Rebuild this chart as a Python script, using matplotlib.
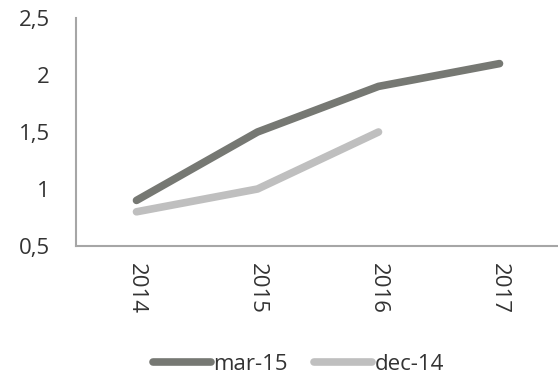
import matplotlib.pyplot as plt
from matplotlib.ticker import FuncFormatter

plt.rcParams['font.family'] = ['Open Sans', 'DejaVu Sans']

years = ['2014', '2015', '2016', '2017']
mar15 = [0.9, 1.5, 1.9, 2.1]
dec14 = [0.8, 1.0, 1.5]

fig = plt.figure(figsize=(5.58, 3.78), dpi=100)
ax = fig.add_axes([76/558, 1-246/378, 484/558, 228/378])

x = list(range(len(years)))
ax.plot(x, mar15, color='#767873', lw=5.5, solid_capstyle='round', label='mar-15')
ax.plot(x[:len(dec14)], dec14, color='#bfbfbf', lw=5.5, solid_capstyle='round', label='dec-14')

ax.set_xlim(-0.5, 3.5)
ax.set_ylim(0.5, 2.5)
ax.set_yticks([0.5, 1, 1.5, 2, 2.5])
ax.yaxis.set_major_formatter(FuncFormatter(lambda v, p: f'{v:g}'.replace('.', ',')))
ax.set_xticks(x)
ax.set_xticklabels(years, rotation=-90)
ax.tick_params(length=0, labelsize=16, colors='#333333')
ax.tick_params(axis='y', pad=19)
ax.tick_params(axis='x', pad=12)
for s in ['top', 'right']:
    ax.spines[s].set_visible(False)
for s in ['left', 'bottom']:
    ax.spines[s].set_color('#a6a6a6')
    ax.spines[s].set_linewidth(1.5)

fig.legend(loc='center', bbox_to_anchor=(0.535, 1-364/378), ncol=2, frameon=False,
           fontsize=16, handlelength=2.6, handletextpad=0.1, columnspacing=1.2,
           labelcolor='#333333')

fig.savefig('out.png', dpi=100)
